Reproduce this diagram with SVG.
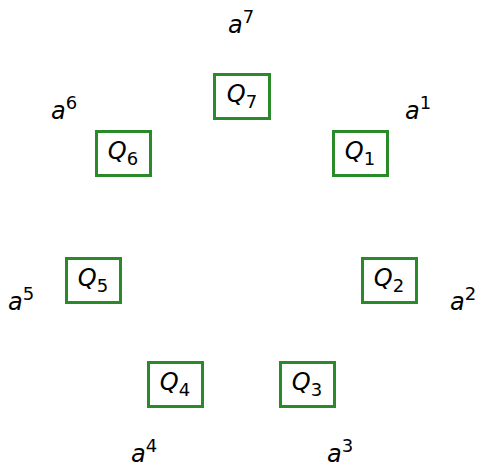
<svg xmlns="http://www.w3.org/2000/svg" width="478" height="467" viewBox="0 0 478 467">
<style>
.box{fill:#fff;stroke:#2a8a2a;stroke-width:3}
.t{font-family:"DejaVu Sans",sans-serif;font-size:24px;fill:#000}
.i{font-style:italic}
.s{font-size:18px;font-style:normal}
</style>
<rect width="478" height="467" fill="#fff"/>
<g id="connectors"/>
<g id="Q7"><rect class="box" x="214.5" y="74.5" width="55" height="44"/><text class="t" x="242" y="102" text-anchor="middle"><tspan class="i">Q</tspan><tspan class="s" dy="6">7</tspan></text></g>
<g id="Q6"><rect class="box" x="96.5" y="131.5" width="54" height="44"/><text class="t" x="123" y="159" text-anchor="middle"><tspan class="i">Q</tspan><tspan class="s" dy="6">6</tspan></text></g>
<g id="Q1"><rect class="box" x="333.5" y="131.5" width="54" height="44"/><text class="t" x="360" y="159" text-anchor="middle"><tspan class="i">Q</tspan><tspan class="s" dy="6">1</tspan></text></g>
<g id="Q5"><rect class="box" x="66.5" y="258.5" width="54" height="44"/><text class="t" x="93" y="286" text-anchor="middle"><tspan class="i">Q</tspan><tspan class="s" dy="6">5</tspan></text></g>
<g id="Q2"><rect class="box" x="362.5" y="258.5" width="54" height="44"/><text class="t" x="389" y="286" text-anchor="middle"><tspan class="i">Q</tspan><tspan class="s" dy="6">2</tspan></text></g>
<g id="Q4"><rect class="box" x="148.5" y="362.5" width="54" height="44"/><text class="t" x="175" y="390" text-anchor="middle"><tspan class="i">Q</tspan><tspan class="s" dy="6">4</tspan></text></g>
<g id="Q3"><rect class="box" x="280.5" y="362.5" width="54" height="44"/><text class="t" x="307" y="390" text-anchor="middle"><tspan class="i">Q</tspan><tspan class="s" dy="6">3</tspan></text></g>
<g id="labels">
<text class="t" x="228" y="33"><tspan class="i">a</tspan><tspan class="s" dy="-10">7</tspan></text>
<text class="t" x="51" y="119"><tspan class="i">a</tspan><tspan class="s" dy="-10">6</tspan></text>
<text class="t" x="405" y="119"><tspan class="i">a</tspan><tspan class="s" dy="-10">1</tspan></text>
<text class="t" x="8" y="310"><tspan class="i">a</tspan><tspan class="s" dy="-10">5</tspan></text>
<text class="t" x="450" y="310"><tspan class="i">a</tspan><tspan class="s" dy="-10">2</tspan></text>
<text class="t" x="131" y="462"><tspan class="i">a</tspan><tspan class="s" dy="-10">4</tspan></text>
<text class="t" x="327" y="462"><tspan class="i">a</tspan><tspan class="s" dy="-10">3</tspan></text>
</g>
</svg>
